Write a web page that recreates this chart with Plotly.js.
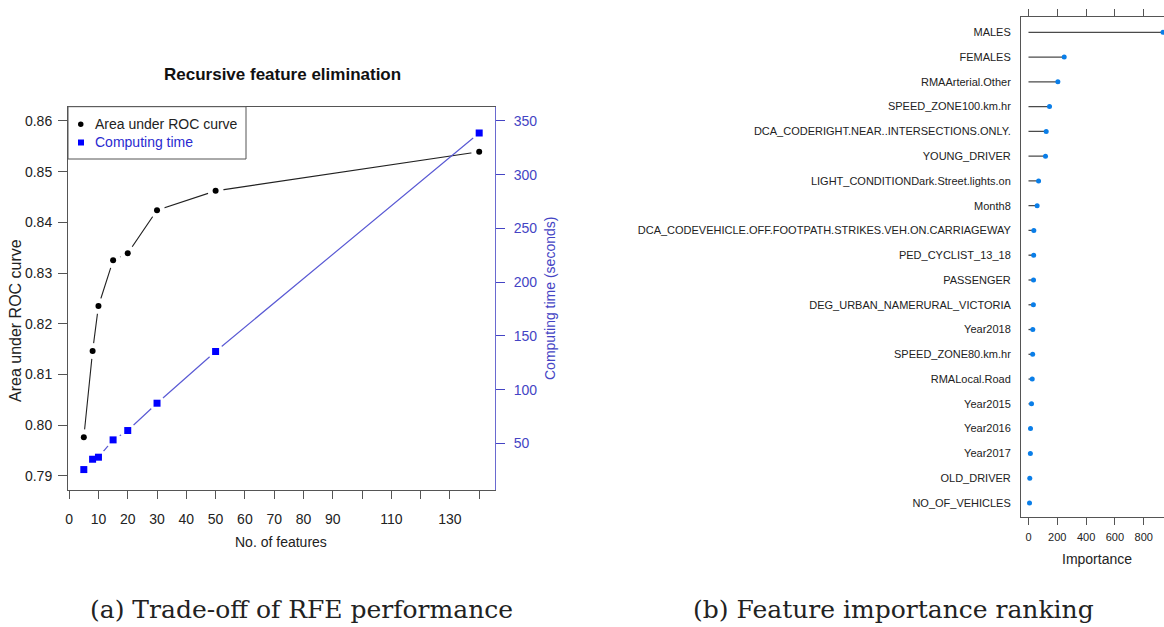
<!DOCTYPE html>
<html>
<head>
<meta charset="utf-8">
<script src="https://cdn.plot.ly/plotly-3.0.1.min.js"></script>
<style>html,body{margin:0;padding:0;background:#fff;}#chart{width:1164px;height:627px;}</style>
</head>
<body>
<div id="chart"></div>
<script>
// ---- Data: (a) RFE trade-off ----
const nFeatures = [5, 8, 10, 15, 20, 30, 50, 140];
const aucValues = [0.7976, 0.8146, 0.8235, 0.8325, 0.8339, 0.8424, 0.8462, 0.8539];
const timeSeconds = [25.8, 35.4, 37.3, 53.4, 62.1, 87.5, 135.6, 338.8];
const xTickVals = [0, 10, 20, 30, 40, 50, 60, 70, 80, 90, 100, 110, 120, 130, 140];
const xTickText = ['0', '10', '20', '30', '40', '50', '60', '70', '80', '90', '', '110', '', '130', ''];
const aucTicks = [0.79, 0.80, 0.81, 0.82, 0.83, 0.84, 0.85, 0.86];
const timeTicks = [50, 100, 150, 200, 250, 300, 350];

// ---- Data: (b) feature importance ----
const features = ['MALES', 'FEMALES', 'RMAArterial.Other', 'SPEED_ZONE100.km.hr',
  'DCA_CODERIGHT.NEAR..INTERSECTIONS.ONLY.', 'YOUNG_DRIVER', 'LIGHT_CONDITIONDark.Street.lights.on',
  'Month8', 'DCA_CODEVEHICLE.OFF.FOOTPATH.STRIKES.VEH.ON.CARRIAGEWAY', 'PED_CYCLIST_13_18',
  'PASSENGER', 'DEG_URBAN_NAMERURAL_VICTORIA', 'Year2018', 'SPEED_ZONE80.km.hr', 'RMALocal.Road',
  'Year2015', 'Year2016', 'Year2017', 'OLD_DRIVER', 'NO_OF_VEHICLES'];
const importance = [934, 248, 204, 146, 123, 118, 70, 60, 37, 36, 35, 34, 30, 29, 26, 21, 14, 13, 9, 7];
const impTicks = [0, 200, 400, 600, 800];

// ---- Layout helpers ----
const W = 1164, H = 627;
const px = x => x / W;
const py = y => 1 - y / H;
const SANS = 'Liberation Sans, Arial, sans-serif';
const INK = '#222222';
const FRAME = '#555555';
const BLUE_AXIS = '#4444c4';
const BLUE_LINE = '#5a5ad4';
const BLUE_MARK = '#0000ff';

const traces = [
  // AUC line
  {x: nFeatures, y: aucValues, xaxis: 'x', yaxis: 'y', mode: 'lines',
   line: {color: '#222', width: 1.1}, showlegend: false, hoverinfo: 'skip'},
  // AUC gaps (type 'b' look)
  {x: nFeatures, y: aucValues, xaxis: 'x', yaxis: 'y', mode: 'markers',
   marker: {color: '#ffffff', size: 16, line: {width: 0}}, showlegend: false, hoverinfo: 'skip'},
  // AUC points
  {x: nFeatures, y: aucValues, xaxis: 'x', yaxis: 'y', mode: 'markers',
   marker: {color: '#000', size: 6, symbol: 'circle'}, showlegend: false},
  // time line
  {x: nFeatures, y: timeSeconds, xaxis: 'x', yaxis: 'y2', mode: 'lines',
   line: {color: BLUE_LINE, width: 1.2}, showlegend: false, hoverinfo: 'skip'},
  {x: nFeatures, y: timeSeconds, xaxis: 'x', yaxis: 'y2', mode: 'markers',
   marker: {color: '#ffffff', size: 16, line: {width: 0}}, showlegend: false, hoverinfo: 'skip'},
  {x: nFeatures, y: timeSeconds, xaxis: 'x', yaxis: 'y2', mode: 'markers',
   marker: {color: BLUE_MARK, size: 7, symbol: 'square'}, showlegend: false},
  // importance stems
  {x: features.flatMap((f, i) => [0, importance[i], null]),
   y: features.flatMap(f => [f, f, null]),
   xaxis: 'x2', yaxis: 'y3', mode: 'lines', line: {color: '#4a4a4a', width: 1.3},
   showlegend: false, hoverinfo: 'skip'},
  {x: importance, y: features, xaxis: 'x2', yaxis: 'y3', mode: 'markers',
   marker: {color: '#0a7ee8', size: 5}, showlegend: false}
];

const layout = {
  width: W, height: H,
  margin: {l: 0, r: 0, t: 0, b: 0},
  paper_bgcolor: '#fff', plot_bgcolor: 'rgba(0,0,0,0)',
  showlegend: false,
  font: {family: SANS, color: INK, size: 14},
  xaxis: {
    domain: [px(68), px(495)], anchor: 'y', range: [-0.4, 145.4],
    tickmode: 'array', tickvals: xTickVals, ticktext: xTickText,
    ticks: 'outside', ticklen: 8, tickcolor: FRAME, tickwidth: 1,
    showline: true, linecolor: FRAME, linewidth: 1, mirror: true,
    showgrid: false, zeroline: false, ticklabelstandoff: 8,
    tickfont: {family: SANS, size: 14, color: INK}
  },
  yaxis: {
    domain: [py(490), py(106.7)], anchor: 'x', range: [0.7872, 0.8628],
    tickmode: 'array', tickvals: aucTicks, tickformat: '.2f',
    ticks: 'outside', ticklen: 9, tickcolor: FRAME,
    showline: true, linecolor: FRAME, linewidth: 1,
    showgrid: false, zeroline: false, ticklabelstandoff: 3,
    tickfont: {family: SANS, size: 14, color: INK}
  },
  yaxis2: {
    overlaying: 'y', side: 'right', anchor: 'x', range: [6.8, 363.2],
    tickmode: 'array', tickvals: timeTicks,
    ticks: 'outside', ticklen: 9, tickcolor: BLUE_AXIS,
    showline: true, linecolor: '#6a6ad0', linewidth: 1,
    showgrid: false, zeroline: false, ticklabelstandoff: 6,
    tickfont: {family: SANS, size: 14, color: BLUE_AXIS}
  },
  xaxis2: {
    domain: [px(1021), 1], anchor: 'y3', range: [-52, 941],
    tickmode: 'array', tickvals: impTicks,
    ticks: 'outside', ticklen: 7, tickcolor: FRAME,
    showline: true, linecolor: FRAME, linewidth: 1, mirror: 'ticks',
    showgrid: false, zeroline: false, ticklabelstandoff: 2,
    tickfont: {family: SANS, size: 11, color: INK}
  },
  yaxis3: {
    domain: [py(517.3), py(16.7)], anchor: 'x2', type: 'category',
    categoryorder: 'array', categoryarray: features, range: [19.58, -0.63],
    ticks: '', showline: true, linecolor: FRAME, linewidth: 1,
    showgrid: false, zeroline: false, ticklabelstandoff: 7,
    tickfont: {family: SANS, size: 11, color: INK}
  },
  shapes: [
    // legend box
    {type: 'rect', xref: 'paper', yref: 'paper', x0: px(68), x1: px(246), y0: py(159), y1: py(106.7),
     line: {color: FRAME, width: 1}, fillcolor: '#fff', layer: 'above'},
    {type: 'circle', xref: 'paper', yref: 'paper', x0: px(78), x1: px(83.5), y0: py(127), y1: py(121.5),
     line: {width: 0}, fillcolor: '#000', layer: 'above'},
    {type: 'rect', xref: 'paper', yref: 'paper', x0: px(78), x1: px(84), y0: py(145.5), y1: py(139.5),
     line: {width: 0}, fillcolor: BLUE_MARK, layer: 'above'}
  ],
  annotations: [
    {text: '<b>Recursive feature elimination</b>', xref: 'paper', yref: 'paper', x: px(282), y: py(75),
     showarrow: false, xanchor: 'center', yanchor: 'middle', font: {family: SANS, size: 17, color: '#111'}},
    {text: 'Area under ROC curve', xref: 'paper', yref: 'paper', x: px(93), y: py(124.3),
     showarrow: false, xanchor: 'left', yanchor: 'middle', font: {family: SANS, size: 14, color: INK}},
    {text: 'Computing time', xref: 'paper', yref: 'paper', x: px(93), y: py(142.3),
     showarrow: false, xanchor: 'left', yanchor: 'middle', font: {family: SANS, size: 14, color: '#2a2ad0'}},
    {text: 'No. of features', xref: 'paper', yref: 'paper', x: px(281), y: py(542),
     showarrow: false, xanchor: 'center', yanchor: 'middle', font: {family: SANS, size: 14, color: INK}},
    {text: 'Area under ROC curve', xref: 'paper', yref: 'paper', x: px(15), y: py(321), textangle: -90,
     showarrow: false, xanchor: 'center', yanchor: 'middle', font: {family: SANS, size: 16, color: INK}},
    {text: 'Computing time (seconds)', xref: 'paper', yref: 'paper', x: px(550), y: py(299), textangle: -90,
     showarrow: false, xanchor: 'center', yanchor: 'middle', font: {family: SANS, size: 14, color: BLUE_AXIS}},
    {text: 'Importance', xref: 'paper', yref: 'paper', x: px(1097), y: py(559),
     showarrow: false, xanchor: 'center', yanchor: 'middle', font: {family: SANS, size: 14, color: INK}},
    {text: '(a) Trade-off of RFE performance', xref: 'paper', yref: 'paper', x: px(301), y: py(609),
     showarrow: false, xanchor: 'center', yanchor: 'middle', font: {family: 'DejaVu Serif, serif', size: 25, color: '#222'}},
    {text: '(b) Feature importance ranking', xref: 'paper', yref: 'paper', x: px(893), y: py(609),
     showarrow: false, xanchor: 'center', yanchor: 'middle', font: {family: 'DejaVu Serif, serif', size: 25, color: '#222'}}
  ]
};

Plotly.newPlot('chart', traces, layout, {displayModeBar: false, staticPlot: true});
</script>
</body>
</html>
